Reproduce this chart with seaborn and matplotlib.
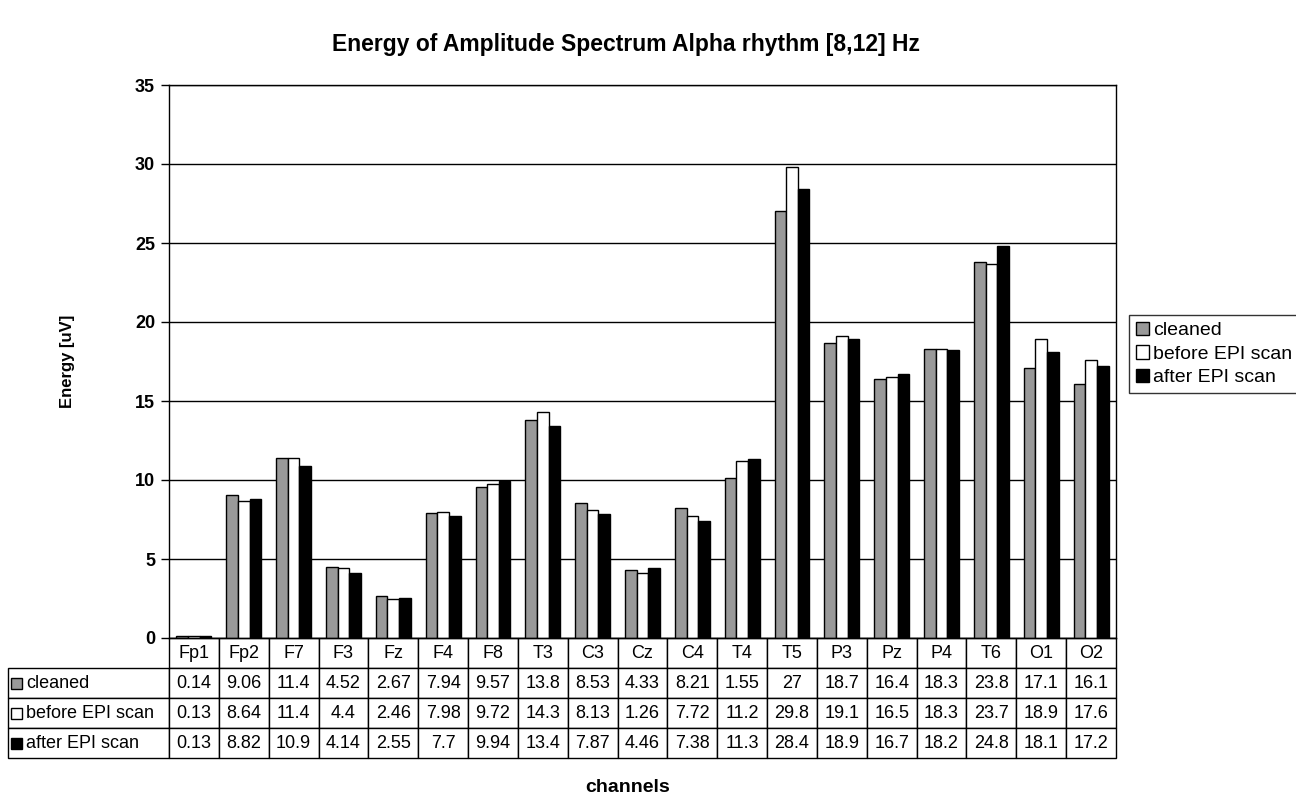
import matplotlib
matplotlib.use("Agg")
import matplotlib.pyplot as plt
from matplotlib.patches import Patch, Rectangle
import seaborn as sns
import pandas as pd

channels = ["Fp1", "Fp2", "F7", "F3", "Fz", "F4", "F8", "T3", "C3", "Cz",
            "C4", "T4", "T5", "P3", "Pz", "P4", "T6", "O1", "O2"]
series = ["cleaned", "before EPI scan", "after EPI scan"]

# bar heights as drawn
cleaned = [0.14, 9.06, 11.4, 4.52, 2.67, 7.94, 9.57, 13.8, 8.53, 4.33,
           8.21, 10.1, 27.0, 18.7, 16.4, 18.3, 23.8, 17.1, 16.1]
before = [0.13, 8.64, 11.4, 4.4, 2.46, 7.98, 9.72, 14.3, 8.13, 4.1,
          7.72, 11.2, 29.8, 19.1, 16.5, 18.3, 23.7, 18.9, 17.6]
after = [0.13, 8.82, 10.9, 4.14, 2.55, 7.7, 9.94, 13.4, 7.87, 4.46,
         7.38, 11.3, 28.4, 18.9, 16.7, 18.2, 24.8, 18.1, 17.2]

# values as printed in the data table
table_cleaned = ["0.14", "9.06", "11.4", "4.52", "2.67", "7.94", "9.57", "13.8", "8.53", "4.33",
                 "8.21", "1.55", "27", "18.7", "16.4", "18.3", "23.8", "17.1", "16.1"]
table_before = ["0.13", "8.64", "11.4", "4.4", "2.46", "7.98", "9.72", "14.3", "8.13", "1.26",
                "7.72", "11.2", "29.8", "19.1", "16.5", "18.3", "23.7", "18.9", "17.6"]
table_after = ["0.13", "8.82", "10.9", "4.14", "2.55", "7.7", "9.94", "13.4", "7.87", "4.46",
               "7.38", "11.3", "28.4", "18.9", "16.7", "18.2", "24.8", "18.1", "17.2"]

yticks = [0, 5, 10, 15, 20, 25, 30, 35]
colors = ["#999999", "#ffffff", "#000000"]

sns.set_theme(style="white")
plt.rcParams["font.family"] = ["Liberation Sans", "DejaVu Sans"]
plt.rcParams["text.color"] = "black"
plt.rcParams["axes.labelcolor"] = "black"
plt.rcParams["ytick.color"] = "black"

rows = []
for s, vals in zip(series, [cleaned, before, after]):
    for c, v in zip(channels, vals):
        rows.append({"channel": c, "series": s, "value": v})
df = pd.DataFrame(rows)

W, H = 1296, 798
fig = plt.figure(figsize=(W / 100, H / 100), dpi=100)
ax_l, ax_r, ax_t, ax_b = 169, 1116, 85, 638
ax = fig.add_axes([ax_l / W, 1 - ax_b / H, (ax_r - ax_l) / W, (ax_b - ax_t) / H])

sns.barplot(data=df, x="channel", y="value", hue="series", order=channels,
            hue_order=series, palette=colors, edgecolor="black", linewidth=1.0,
            width=0.7, gap=0, legend=False, ax=ax, saturation=1)

ax.set_ylim(0, 35)
ax.set_xlim(-0.5, len(channels) - 0.5)
ax.set_yticks(yticks)
ax.set_yticklabels([str(t) for t in yticks], fontsize=13, fontweight="bold")
ax.yaxis.grid(True, color="black", linewidth=1.0)
ax.set_axisbelow(True)
ax.tick_params(axis="y", which="major", left=True, length=6, width=1, color="black", pad=4)
ax.tick_params(axis="x", bottom=False, labelbottom=False)
ax.set_xlabel("")
for sp in ax.spines.values():
    sp.set_visible(True)
    sp.set_color("black")
    sp.set_linewidth(1.0)

ax.set_ylabel("Energy [uV]", fontsize=12, fontweight="bold")
axw = ax_r - ax_l
axh = ax_b - ax_t
ax.yaxis.set_label_coords(-(ax_l - 75) / axw, 0.5)

# data table
cell_text = [[""] + channels,
             [series[0]] + table_cleaned,
             [series[1]] + table_before,
             [series[2]] + table_after]
tab_left, tab_bottom = 8, 758
label_w = ax_l - tab_left
col_w = axw / len(channels)
tot_w = label_w + col_w * len(channels)
col_widths = [label_w / tot_w] + [col_w / tot_w] * len(channels)
bbox = [-(ax_l - tab_left) / axw, -(tab_bottom - ax_b) / axh, tot_w / axw, (tab_bottom - ax_b) / axh]
tbl = ax.table(cellText=cell_text, colWidths=col_widths, bbox=bbox, cellLoc="center")
tbl.auto_set_font_size(False)
for (r, c), cell in tbl.get_celld().items():
    cell.set_edgecolor("black")
    cell.set_linewidth(1.0)
    cell.get_text().set_fontsize(13)
    cell.get_text().set_color("black")
    if r == 0 and c == 0:
        cell.visible_edges = ""
    if c == 0 and r > 0:
        cell._loc = "left"
        cell.get_text().set_ha("left")
        cell.PAD = 18 / label_w

# small squares in table row labels
row_h = (tab_bottom - ax_b) / 4
for i, col in enumerate(colors):
    yc = ax_b + row_h * (i + 1.5)
    sq = 11
    x0 = (11 - ax_l) / axw
    y0 = -(yc + sq / 2 - ax_b) / axh
    ax.add_patch(Rectangle((x0, y0), sq / axw, sq / axh, transform=ax.transAxes,
                           facecolor=col, edgecolor="black", linewidth=1.0,
                           clip_on=False, zorder=10))

# legend
handles = [Patch(facecolor=c, edgecolor="black", linewidth=1.0) for c in colors]
leg = fig.legend(handles, series, loc="upper left",
                 bbox_to_anchor=(1129 / W, 1 - 315 / H), frameon=True, fancybox=False,
                 edgecolor="black", fontsize=14, handlelength=0.7, handleheight=0.7,
                 handletextpad=0.2, labelspacing=0.3, borderpad=0.35, borderaxespad=0)
leg.get_frame().set_linewidth(1.0)

fig.text(626 / W, 1 - 45 / H, "Energy of Amplitude Spectrum Alpha rhythm [8,12] Hz",
         ha="center", va="center", fontsize=16.5, fontweight="bold")
fig.text(628 / W, 1 - 787 / H, "channels", ha="center", va="center",
         fontsize=14, fontweight="bold")

fig.savefig("out.png", dpi=100)
